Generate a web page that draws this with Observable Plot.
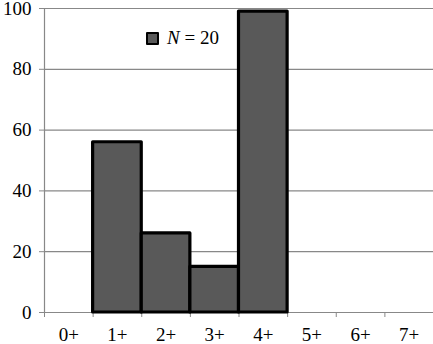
<!DOCTYPE html>
<html><head><meta charset="utf-8">
<script src="https://cdn.jsdelivr.net/npm/d3@7"></script>
<script src="https://cdn.jsdelivr.net/npm/@observablehq/plot@0.6"></script>
<style>
body{margin:0;background:#fff;font-family:"Liberation Serif",serif;}
#wrap{position:relative;width:433px;height:344px;}
#legend{position:absolute;left:146px;top:27px;font-size:19px;display:flex;align-items:center;color:#000;}
#legend .sw{width:9px;height:9px;background:#595959;border:2px solid #000;border-radius:1px;margin-right:8px;}
</style></head>
<body><div id="wrap"><div id="legend"><span class="sw"></span><span><i>N</i> = 20</span></div></div>
<script>
const categories = ["0+","1+","2+","3+","4+","5+","6+","7+"];
const values = [0, 56, 26, 15, 99, 0, 0, 0];
const yTicks = [0, 20, 40, 60, 80, 100];

const data = categories.map((c,i)=>({c, i, v: values[i]})).filter(d=>d.v>0);
const serif = "Liberation Serif";

const chart = Plot.plot({
  width: 433, height: 344,
  marginLeft: 44, marginRight: 0, marginTop: 8, marginBottom: 32,
  x: {type: "linear", domain: [0, categories.length]},
  y: {domain: [0, 100]},
  marks: [
    Plot.ruleY(yTicks, {stroke: "#888", strokeWidth: 1.2}),
    Plot.ruleX([0], {stroke: "#888", strokeWidth: 1.2}),
    Plot.axisY({ticks: yTicks, tickSize: 5, tickFormat: () => "", stroke: "#888", label: null}),
    Plot.axisX({ticks: d3.range(0, categories.length + 1), tickSize: 5, tickFormat: () => "", stroke: "#888", label: null}),
    Plot.text(yTicks, {x: 0, y: d=>d, text: d=>String(d), textAnchor: "end", dx: -13, fontFamily: serif, fontSize: 19, fill: "#000"}),
    Plot.text(categories, {x: (d,i)=>i+0.5, y: 0, text: d=>d, dy: 22, fontFamily: serif, fontSize: 19, fill: "#000"}),
    Plot.rectY(data, {x1: d=>d.i, x2: d=>d.i+1, y: "v", fill: "#595959", stroke: "#000", strokeWidth: 3.2, strokeLinejoin: "round"})
  ]
});
document.getElementById("wrap").prepend(chart);
</script></body></html>
